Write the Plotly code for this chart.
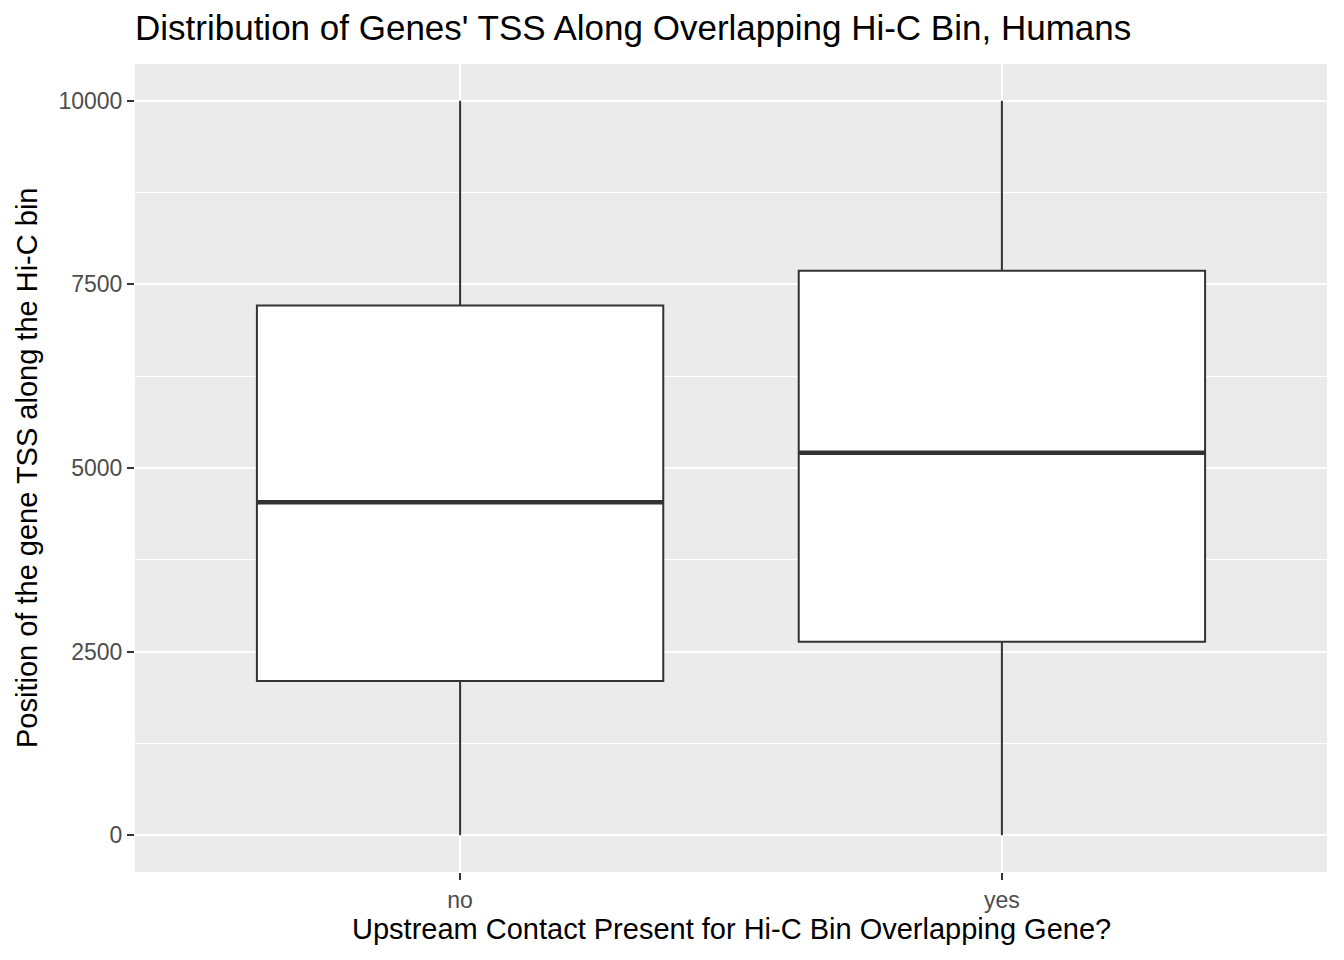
import plotly.graph_objects as go

categories = ["no", "yes"]
q1 = [2099, 2635]
median = [4535, 5207]
q3 = [7211, 7687]
lower = [0, 0]
upper = [10000, 10000]
y_ticks = [0, 2500, 5000, 7500, 10000]

box_w = 0.75
xpos = [i + 1 for i in range(len(categories))]
LINE = "#333333"
FONT = "Liberation Sans, Arial, Helvetica, sans-serif"

fig = go.Figure()
for i, c in enumerate(categories):
    fig.add_trace(go.Box(
        x=[xpos[i]], q1=[q1[i]], median=[median[i]], q3=[q3[i]],
        lowerfence=[lower[i]], upperfence=[upper[i]],
        width=box_w, whiskerwidth=0, boxpoints=False,
        fillcolor="white", line=dict(color=LINE, width=2),
        name=c, showlegend=False, hoverinfo="skip",
    ))
    fig.add_trace(go.Scatter(
        x=[xpos[i] - box_w / 2, xpos[i] + box_w / 2], y=[median[i], median[i]],
        mode="lines", line=dict(color=LINE, width=4.5),
        showlegend=False, hoverinfo="skip",
    ))

fig.update_layout(
    width=1344, height=960,
    margin=dict(l=135, r=17, t=64, b=88),
    paper_bgcolor="white", plot_bgcolor="#EBEBEB",
    font=dict(family=FONT),
    title=dict(text="Distribution of Genes' TSS Along Overlapping Hi-C Bin, Humans",
               x=135 / 1344, xanchor="left", xref="container",
               y=1 - 28 / 960, yanchor="middle", yref="container",
               font=dict(size=35, color="black", family=FONT)),
    showlegend=False,
)
fig.update_xaxes(
    range=[0.4, 2.6], tickvals=xpos, ticktext=categories,
    showgrid=True, gridcolor="white", gridwidth=2, zeroline=False,
    ticks="outside", ticklen=7, tickwidth=2, tickcolor=LINE,
    tickfont=dict(size=23, color="#4D4D4D", family=FONT), showline=False,
)
fig.update_yaxes(
    range=[-500, 10500], tickvals=y_ticks, ticktext=[str(v) for v in y_ticks],
    showgrid=True, gridcolor="white", gridwidth=2, zeroline=False,
    minor=dict(dtick=1250, tick0=0, showgrid=True, gridcolor="white", gridwidth=1),
    ticks="outside", ticklen=7, tickwidth=2, tickcolor=LINE,
    tickfont=dict(size=23, color="#4D4D4D", family=FONT), showline=False,
)
fig.add_annotation(text="Upstream Contact Present for Hi-C Bin Overlapping Gene?",
                   xref="paper", yref="paper", x=0.5, y=(872 - 929) / 808,
                   xanchor="center", yanchor="middle", showarrow=False,
                   font=dict(size=29, color="black", family=FONT))
fig.add_annotation(text="Position of the gene TSS along the Hi-C bin",
                   xref="paper", yref="paper", x=(27 - 135) / 1192, y=0.5,
                   xanchor="center", yanchor="middle", textangle=-90, showarrow=False,
                   font=dict(size=29, color="black", family=FONT))

fig.write_html("out.html")
